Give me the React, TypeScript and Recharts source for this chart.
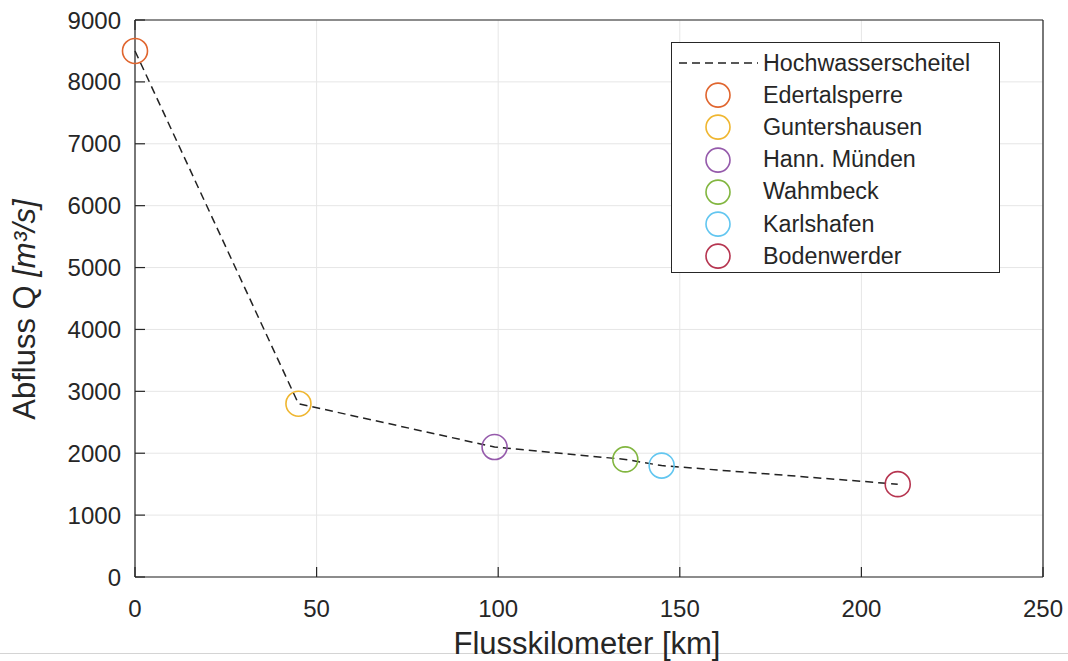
import React from "react"
import {
  ComposedChart,
  Line,
  Scatter,
  XAxis,
  YAxis,
  CartesianGrid,
  Legend,
  Label,
} from "recharts"

// Hochwasserscheitel entlang der Fulda/Weser (Flusskilometer vs. Abfluss)
const stations = ["Edertalsperre", "Guntershausen", "Hann. Münden", "Wahmbeck", "Karlshafen", "Bodenwerder"]
const kilometers = [0, 45, 99, 135, 145, 210]
const discharge = [8500, 2800, 2100, 1900, 1800, 1500]
const stationColors = ["#E0652E", "#EFB630", "#955AAB", "#82B640", "#62C6F0", "#B63550"]

const xTicks = [0, 50, 100, 150, 200, 250]
const yTicks = [0, 1000, 2000, 3000, 4000, 5000, 6000, 7000, 8000, 9000]

const peakLine = kilometers.map((km, i) => ({ km, q: discharge[i] }))

const FONT = '"Liberation Sans", Arial, Helvetica, sans-serif'
const AXIS = "#262626"
const TICK_LEN = 10

const ringShape = (color: string) => (props: any) => {
  const { cx, cy } = props
  if (cx == null || cy == null) return null
  return <circle cx={cx} cy={cy} r={12.5} fill="none" stroke={color} strokeWidth={1.6} />
}

// ticks point into the plot area, labels sit outside
const BottomTick = (props: any) => {
  const { x, y, payload } = props
  const axisY = y - 23
  return (
    <g>
      <line x1={x} x2={x} y1={axisY} y2={axisY - TICK_LEN} stroke={AXIS} strokeWidth={1.2} />
      <text x={x} y={y} dy={17} textAnchor="middle" fill={AXIS} fontSize={24} fontFamily={FONT}>
        {payload.value}
      </text>
    </g>
  )
}

const LeftTick = (props: any) => {
  const { x, y, payload } = props
  const axisX = x + 14
  return (
    <g>
      <line x1={axisX} x2={axisX + TICK_LEN} y1={y} y2={y} stroke={AXIS} strokeWidth={1.2} />
      <text x={x} y={y} dy={8.5} textAnchor="end" fill={AXIS} fontSize={24} fontFamily={FONT}>
        {payload.value}
      </text>
    </g>
  )
}

const TopTick = (props: any) => {
  const { x, y } = props
  return <line x1={x} x2={x} y1={y} y2={y + TICK_LEN} stroke={AXIS} strokeWidth={1.2} />
}

const RightTick = (props: any) => {
  const { x, y } = props
  return <line x1={x} x2={x - TICK_LEN} y1={y} y2={y} stroke={AXIS} strokeWidth={1.2} />
}

function LegendBox() {
  const rowH = 32.2
  const rows = [
    { name: "Hochwasserscheitel", color: null as string | null },
    ...stations.map((s, i) => ({ name: s, color: stationColors[i] })),
  ]
  return (
    <div
      style={{
        width: 329,
        height: 231,
        border: `1px solid ${AXIS}`,
        background: "#fff",
        boxSizing: "border-box",
        paddingTop: 4,
        fontFamily: FONT,
        fontSize: 23.3,
        color: AXIS,
      }}
    >
      {rows.map((r) => (
        <div key={r.name} style={{ display: "flex", alignItems: "center", height: rowH }}>
          <svg width={91} height={rowH} style={{ flex: "none" }}>
            {r.color ? (
              <circle cx={46} cy={rowH / 2} r={12} fill="none" stroke={r.color} strokeWidth={1.6} />
            ) : (
              <line x1={7} x2={86} y1={rowH / 2} y2={rowH / 2} stroke="#222" strokeWidth={1.5} strokeDasharray="8 5" />
            )}
          </svg>
          <span style={{ whiteSpace: "nowrap" }}>{r.name}</span>
        </div>
      ))}
    </div>
  )
}

const YTitle = (props: any) => {
  const { viewBox } = props
  const x = viewBox.x + 35
  const y = viewBox.y + viewBox.height / 2 + 11
  return (
    <text
      x={x}
      y={y}
      transform={`rotate(-90, ${x}, ${y})`}
      textAnchor="middle"
      fontFamily={FONT}
      fontSize={31}
      fill={AXIS}
    >
      Abfluss Q <tspan fontStyle="italic">[m³/s]</tspan>
    </text>
  )
}

const XTitle = (props: any) => {
  const { viewBox } = props
  return (
    <text
      x={viewBox.x + viewBox.width / 2 - 2}
      y={654}
      textAnchor="middle"
      fontFamily={FONT}
      fontSize={31}
      fill={AXIS}
    >
      Flusskilometer [km]
    </text>
  )
}

export default function App() {
  const axisLine = { stroke: AXIS, strokeWidth: 1.2 }
  return (
    <div style={{ position: "absolute", left: 0, top: 0, width: 1068, height: 661, background: "#fff" }}>
      <div style={{ position: "absolute", left: 0, top: 653, width: 1068, height: 1, background: "#d4d4d4" }} />
      <ComposedChart
        width={1068}
        height={661}
        data={peakLine}
        margin={{ top: 0, right: 0, bottom: 34, left: 0 }}
        style={{ position: "absolute", left: 0, top: 0 }}
      >
        <CartesianGrid stroke="#e6e6e6" strokeWidth={1} horizontalValues={yTicks} verticalValues={xTicks} />
        <XAxis
          dataKey="km"
          type="number"
          domain={[0, 250]}
          ticks={xTicks}
          interval={0}
          height={50}
          tickSize={0}
          tickMargin={23}
          tick={<BottomTick />}
          axisLine={axisLine}
          tickLine={false}
        >
          <Label content={<XTitle />} />
        </XAxis>
        <XAxis
          xAxisId="top"
          orientation="top"
          type="number"
          domain={[0, 250]}
          ticks={xTicks}
          interval={0}
          height={20}
          tickSize={0}
          tickMargin={0}
          tick={<TopTick />}
          axisLine={axisLine}
          tickLine={false}
        />
        <YAxis
          type="number"
          domain={[0, 9000]}
          ticks={yTicks}
          interval={0}
          width={135}
          tickSize={0}
          tickMargin={14}
          tick={<LeftTick />}
          axisLine={axisLine}
          tickLine={false}
        >
          <Label content={<YTitle />} />
        </YAxis>
        <YAxis
          yAxisId="right"
          orientation="right"
          type="number"
          domain={[0, 9000]}
          ticks={yTicks}
          interval={0}
          width={25}
          tickSize={0}
          tickMargin={0}
          tick={<RightTick />}
          axisLine={axisLine}
          tickLine={false}
        />
        <Line
          dataKey="q"
          type="linear"
          stroke="#222"
          strokeWidth={1.5}
          strokeDasharray="8 5"
          dot={false}
          activeDot={false}
          isAnimationActive={false}
        />
        {stations.map((s, i) => (
          <Scatter
            key={s}
            name={s}
            data={[{ km: kilometers[i], q: discharge[i] }]}
            dataKey="q"
            shape={ringShape(stationColors[i])}
            isAnimationActive={false}
          />
        ))}
        <Legend
          layout="horizontal"
          verticalAlign="middle"
          align="center"
          content={() => <LegendBox />}
          wrapperStyle={{ position: "absolute", left: 671, top: 42, width: 329, height: 231 }}
        />
      </ComposedChart>
    </div>
  )
}
